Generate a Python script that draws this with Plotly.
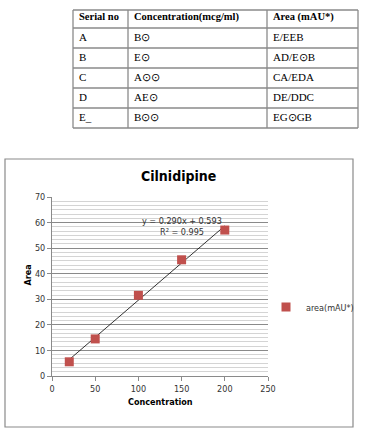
import numpy as np
import plotly.graph_objects as go

# Table (glyphs as they appear in the reference)
table_header = ["Serial no", "Concentration(mcg/ml)", "Area (mAU*)"]
serial_glyphs = ["A", "B", "C", "D", "E_"]
conc_glyphs = ["B⊙", "E⊙", "A⊙⊙", "AE⊙", "B⊙⊙"]
area_glyphs = ["E/EEB", "AD/E⊙B", "CA/EDA", "DE/DDC", "EG⊙GB"]

# Chart data
concentration = [20, 50, 100, 150, 200]
area = [5.552, 14.502, 31.541, 45.443, 57.072]
equation_text = "y = 0.290x + 0.593"
r2_text = "R² = 0.995"

W, H = 374, 431
def px(x): return x / W
def py(y): return 1 - y / H

slope, intercept = np.polyfit(concentration, area, 1)
fit_x = [min(concentration), max(concentration)]
fit_y = [slope * v + intercept for v in fit_x]

fig = go.Figure()
fig.add_trace(go.Scatter(x=fit_x, y=fit_y, mode="lines",
                         line=dict(color="black", width=0.8), showlegend=False,
                         hoverinfo="skip"))
fig.add_trace(go.Scatter(x=concentration, y=area, mode="markers", name="area(mAU*)",
                         marker=dict(symbol="square", size=9, color="#C0504D",
                                     line=dict(width=0))))

# ---- table layout (shapes + annotations) ----
col_edges = [73, 128, 267, 358]
row_edges = [10, 28, 48, 68, 88, 108, 128]
tcolor = "#8a8a8a"
shapes = []
annotations = []
for y in row_edges:
    shapes.append(dict(type="line", xref="paper", yref="paper",
                       x0=px(col_edges[0]), x1=px(col_edges[-1]), y0=py(y), y1=py(y),
                       line=dict(color=tcolor, width=1.3)))
for x in col_edges:
    shapes.append(dict(type="line", xref="paper", yref="paper",
                       x0=px(x), x1=px(x), y0=py(row_edges[0]), y1=py(row_edges[-1]),
                       line=dict(color=tcolor, width=1.3)))
columns = [serial_glyphs, conc_glyphs, area_glyphs]
for c, head in enumerate(table_header):
    annotations.append(dict(text="<b>%s</b>" % head, x=px(col_edges[c] + 4),
                            y=py((row_edges[0] + row_edges[1]) / 2 - 2),
                            xref="paper", yref="paper", xanchor="left", yanchor="middle",
                            showarrow=False,
                            font=dict(family="Liberation Serif", size=10.5, color="black")))
    for r, val in enumerate(columns[c]):
        annotations.append(dict(text=val, x=px(col_edges[c] + 4),
                                y=py((row_edges[r + 1] + row_edges[r + 2]) / 2 - 1),
                                xref="paper", yref="paper", xanchor="left", yanchor="middle",
                                showarrow=False,
                                font=dict(family="Liberation Serif", size=11, color="black")))

# chart border
shapes.append(dict(type="rect", xref="paper", yref="paper",
                   x0=px(5), x1=px(353), y0=py(427), y1=py(159),
                   line=dict(color=tcolor, width=1.2), layer="below"))

font_fam = "DejaVu Sans Condensed, DejaVu Sans"
annotations += [
    dict(text="<b>Cilnidipine</b>", x=px(178), y=py(176), xref="paper", yref="paper",
         showarrow=False, font=dict(size=14, color="black", family=font_fam)),
    dict(text="<b>Area</b>", x=px(20), y=py(288), xref="paper", yref="paper",
         showarrow=False, textangle=-90, font=dict(size=9, color="black")),
    dict(text="<b>Concentration</b>", x=px(160), y=py(409), xref="paper", yref="paper",
         showarrow=False, font=dict(size=9, color="black")),
    dict(text=equation_text, x=px(182), y=py(221), xref="paper", yref="paper",
         showarrow=False, font=dict(size=9, color="#333")),
    dict(text=r2_text, x=px(182), y=py(232), xref="paper", yref="paper",
         showarrow=False, font=dict(size=9, color="#333")),
]

fig.update_layout(
    width=W, height=H, margin=dict(l=0, r=0, t=0, b=0),
    paper_bgcolor="white", plot_bgcolor="white",
    font=dict(family=font_fam, size=9, color="#333"),
    xaxis=dict(domain=[px(52), px(268)], range=[0, 250], dtick=50, automargin=False,
               showgrid=False, zeroline=False, showline=True, linecolor=tcolor,
               ticks="outside", ticklen=4, tickcolor=tcolor,
               tickfont=dict(size=9, color="#333")),
    yaxis=dict(domain=[py(376), py(197)], range=[0, 70], dtick=10, automargin=False,
               showgrid=True, gridcolor=tcolor, gridwidth=1, zeroline=False,
               showline=True, linecolor=tcolor,
               ticks="outside", ticklen=4, tickcolor=tcolor,
               tickfont=dict(size=9, color="#333"),
               minor=dict(dtick=10/6, showgrid=True, gridcolor="#d4d4d4", gridwidth=1)),
    legend=dict(x=px(266), y=py(307), xanchor="left", yanchor="middle",
                font=dict(size=9, color="#333"), bgcolor="rgba(0,0,0,0)",
                itemwidth=30),
    shapes=shapes,
    annotations=annotations,
)

fig.write_html("out.html")
